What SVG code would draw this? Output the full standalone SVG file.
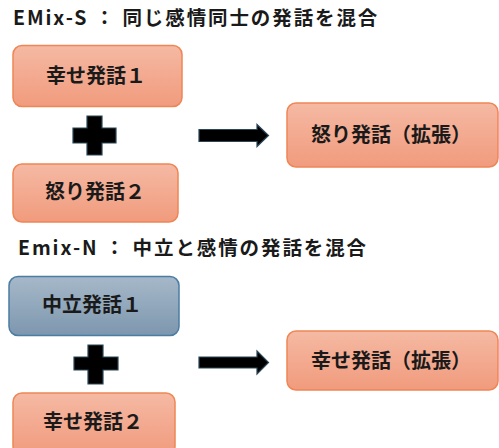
<svg xmlns="http://www.w3.org/2000/svg" width="499" height="448" viewBox="0 0 499 448">
  <defs>
    <linearGradient id="gOrange" x1="0" y1="0" x2="0" y2="1">
      <stop offset="0" stop-color="#F5B9A3"/>
      <stop offset="1" stop-color="#F19B7D"/>
    </linearGradient>
    <linearGradient id="gBlue" x1="0" y1="0" x2="0" y2="1">
      <stop offset="0" stop-color="#A6B8C9"/>
      <stop offset="1" stop-color="#7D97AE"/>
    </linearGradient>
  </defs>
  <style>
    .title { font-family: "Noto Sans CJK JP", "Noto Sans", sans-serif; font-weight: bold; font-size: 19.5px; letter-spacing: 1.9px; fill: #1a1a1a; }
    .lbl { font-family: "Noto Sans CJK JP", "Noto Sans", sans-serif; font-weight: bold; font-size: 20px; fill: #1a1a1a; text-anchor: middle; }
    .orange { fill: url(#gOrange); stroke: #EE8655; stroke-width: 1.5; }
    .blue { fill: url(#gBlue); stroke: #4A7DA3; stroke-width: 1.5; }
    .sym { fill: #000; stroke: #2A4657; stroke-width: 1.2; stroke-linejoin: miter; }
  </style>

  <text class="title" x="13" y="25">EMix-S ： 同じ感情同士の発話を混合</text>
  <text class="title" x="18" y="255">Emix-N ： 中立と感情の発話を混合</text>

  <g id="s_happy1">
    <rect class="orange" x="13" y="45.5" width="169" height="61" rx="9"/>
    <text class="lbl" x="96" y="83">幸せ発話１</text>
  </g>
  <g id="s_angry2">
    <rect class="orange" x="13" y="164" width="165" height="58" rx="9"/>
    <text class="lbl" x="95" y="199">怒り発話２</text>
  </g>
  <g id="s_angry_ext">
    <rect class="orange" x="287" y="103" width="211" height="64" rx="9"/>
    <text class="lbl" x="391" y="142">怒り発話（拡張）</text>
  </g>

  <g id="n_neutral1">
    <rect class="blue" x="9" y="276.5" width="170" height="59" rx="9"/>
    <text class="lbl" x="92" y="312">中立発話１</text>
  </g>
  <g id="n_happy2">
    <rect class="orange" x="13" y="393" width="162" height="62" rx="9"/>
    <text class="lbl" x="93" y="429">幸せ発話２</text>
  </g>
  <g id="n_happy_ext">
    <rect class="orange" x="287" y="331" width="211" height="59" rx="9"/>
    <text class="lbl" x="391" y="368">幸せ発話（拡張）</text>
  </g>

  <g id="connectors">
    <path class="sym" d="M87 116 H102 V128 H116 V143 H102 V155 H87 V143 H73 V128 H87 Z"/>
    <path class="sym" d="M199 129.5 H257 V124.5 L268.5 135.5 L257 146.5 V141.5 H199 Z"/>
    <path class="sym" d="M88 345 H103 V357 H118 V370 H103 V384 H88 V370 H74 V357 H88 Z"/>
    <path class="sym" d="M199 357 H257 V351 L268.5 362.5 L257 374 V368 H199 Z"/>
  </g>
</svg>
